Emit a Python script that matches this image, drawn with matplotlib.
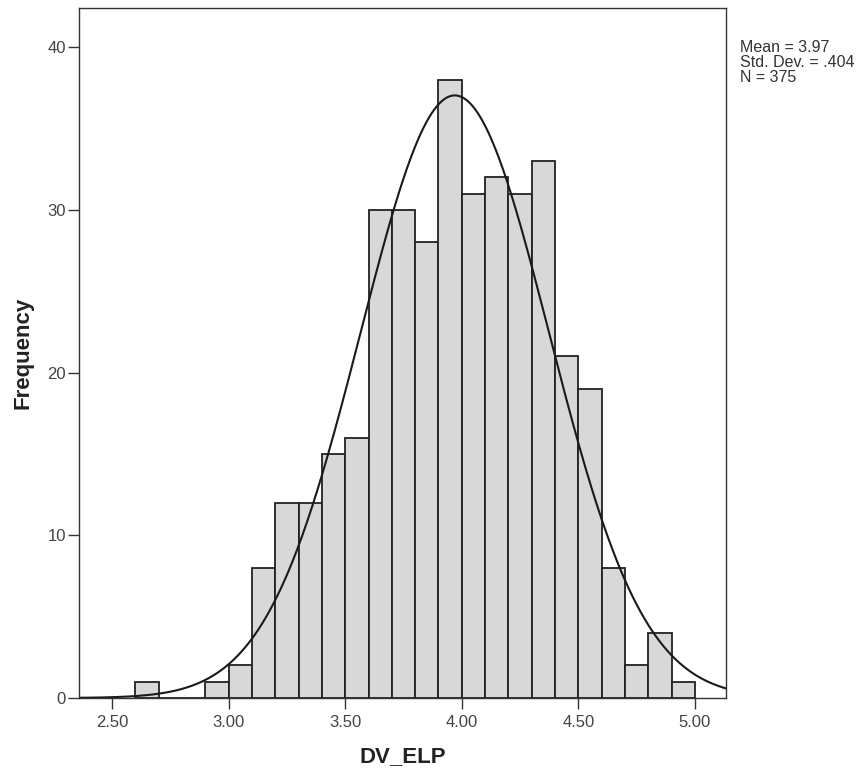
import numpy as np
import matplotlib
matplotlib.use("Agg")
import matplotlib.pyplot as plt

plt.rcParams['font.family'] = ['Liberation Sans', 'DejaVu Sans']

# Histogram data (bin edges and counts)
bin_edges = [2.6, 2.7, 2.8, 2.9, 3.0, 3.1, 3.2, 3.3, 3.4, 3.5, 3.6, 3.7, 3.8,
             3.9, 4.0, 4.1, 4.2, 4.3, 4.4, 4.5, 4.6, 4.7, 4.8, 4.9, 5.0]
counts = [1, 0, 0, 1, 2, 8, 12, 12, 15, 16, 30, 30, 28,
          38, 31, 32, 31, 33, 21, 19, 8, 2, 4, 1]
mean_val = 3.97
std_val = 0.404
n_val = 375
x_ticks = [2.5, 3.0, 3.5, 4.0, 4.5, 5.0]
x_tick_labels = ["2.50", "3.00", "3.50", "4.00", "4.50", "5.00"]
y_ticks = [0, 10, 20, 30, 40]

fig = plt.figure(figsize=(8.63, 7.71), dpi=100)
ax = fig.add_axes([0.0915, 0.0947, 0.7497, 0.8949])

edges = np.array(bin_edges)
widths = np.diff(edges)
ax.bar(edges[:-1], counts, width=widths, align='edge',
       color='#d8d8d8', edgecolor='#222222', linewidth=1.3)

xlo, xhi = 2.358, 5.133
xs = np.linspace(xlo, xhi, 500)
bw = widths[0]
pdf = n_val * bw / (std_val * np.sqrt(2 * np.pi)) * np.exp(-0.5 * ((xs - mean_val) / std_val) ** 2)
ax.plot(xs, pdf, color='#1a1a1a', linewidth=1.5)

ax.set_xlim(xlo, xhi)
ax.set_ylim(0, 42.4)
ax.set_xticks(x_ticks)
ax.set_xticklabels(x_tick_labels)
ax.set_yticks(y_ticks)
ax.tick_params(axis='both', direction='out', length=8, width=1.0,
               colors='#333333', labelsize=12, labelcolor='#444444')
ax.tick_params(axis='x', pad=4)
ax.tick_params(axis='y', pad=1.5)
for s in ax.spines.values():
    s.set_color('#333333')
    s.set_linewidth(1.0)

ax.set_xlabel('DV_ELP', fontsize=16, fontweight='bold', color='#222222')
ax.xaxis.set_label_coords(0.5, -0.0855)
ax.xaxis.label.set_va('center')
ax.set_ylabel('Frequency', fontsize=16, fontweight='bold', color='#222222')
ax.yaxis.set_label_coords(-0.0866, 0.5)
ax.yaxis.label.set_va('center')

fig.text(740 / 863, 1 - 40 / 771, "Mean = 3.97\nStd. Dev. = .404\nN = 375",
         ha='left', va='top', fontsize=11.5, color='#333333', linespacing=0.98)

fig.savefig('out.png', dpi=100)
